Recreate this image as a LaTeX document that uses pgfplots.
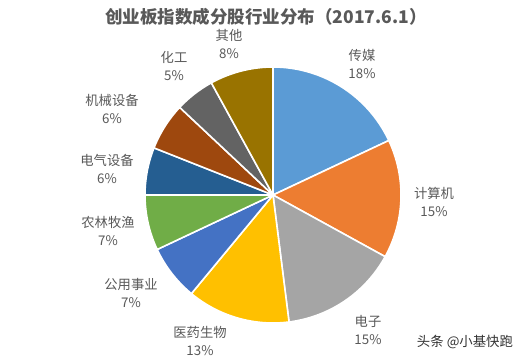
\documentclass[border=0pt]{standalone}
\usepackage{fontspec}
\setmainfont{Noto Sans CJK SC}
\usepackage{pgfplots}
\usepackage{pgfplotstable}
\pgfplotsset{compat=1.18}
\definecolor{cA}{HTML}{5B9BD5}
\definecolor{cB}{HTML}{ED7D31}
\definecolor{cC}{HTML}{A5A5A5}
\definecolor{cD}{HTML}{FFC000}
\definecolor{cE}{HTML}{4472C4}
\definecolor{cF}{HTML}{70AD47}
\definecolor{cG}{HTML}{255E91}
\definecolor{cH}{HTML}{9E480E}
\definecolor{cI}{HTML}{636363}
\definecolor{cJ}{HTML}{997300}
\definecolor{txt}{HTML}{595959}
\pgfplotstableread[col sep=comma]{
name,value,color,lx,ly
传媒,18,cA,362,295
计算机,15,cB,434,157
电子,15,cC,368,29
医药生物,13,cD,200,18
公用事业,7,cE,131,66
农林牧渔,7,cF,108,128
电气设备,6,cG,107,190
机械设备,6,cH,112,250
化工,5,cI,174,293
其他,8,cJ,229,315
}\piedata
\begin{document}
\begin{tikzpicture}
\begin{axis}[
  width=523pt, height=359pt, scale only axis,
  xmin=0, xmax=523, ymin=0, ymax=359,
  hide axis, clip=false,
]
\path[fill=white] (axis cs:0,0) rectangle (axis cs:523,359);
\def\curang{90}
\pgfplotsforeachungrouped \i in {0,...,9}{%
  \pgfplotstablegetelem{\i}{value}\of\piedata \let\v=\pgfplotsretval
  \pgfplotstablegetelem{\i}{color}\of\piedata \let\c=\pgfplotsretval
  \pgfplotstablegetelem{\i}{name}\of\piedata \let\n=\pgfplotsretval
  \pgfplotstablegetelem{\i}{lx}\of\piedata \let\lx=\pgfplotsretval
  \pgfplotstablegetelem{\i}{ly}\of\piedata \let\ly=\pgfplotsretval
  \pgfmathsetmacro\endang{\curang - 3.6*\v}%
  \edef\temp{\noexpand\fill[\c, draw=white, line width=1.6pt, line join=round] (axis cs:273,164) -- ++(\curang:128pt) arc[start angle=\curang, end angle=\endang, radius=128pt] -- cycle;
  \noexpand\node[align=center, text=txt, inner sep=0pt, font=\noexpand\fontsize{13.3}{18}\noexpand\selectfont] at (axis cs:\lx,\ly) {\n\noexpand\\\v\noexpand\%};}%
  \temp
  \let\curang=\endang
}
\node[text=txt, font=\fontsize{17.5}{21}\selectfont\bfseries] at (axis cs:266,342) {创业板指数成分股行业分布（2017.6.1）};
\node[text=black!80, font=\fontsize{13.4}{15}\selectfont] at (axis cs:465,17) {头条 @小基快跑};
\end{axis}
\end{tikzpicture}
\end{document}
